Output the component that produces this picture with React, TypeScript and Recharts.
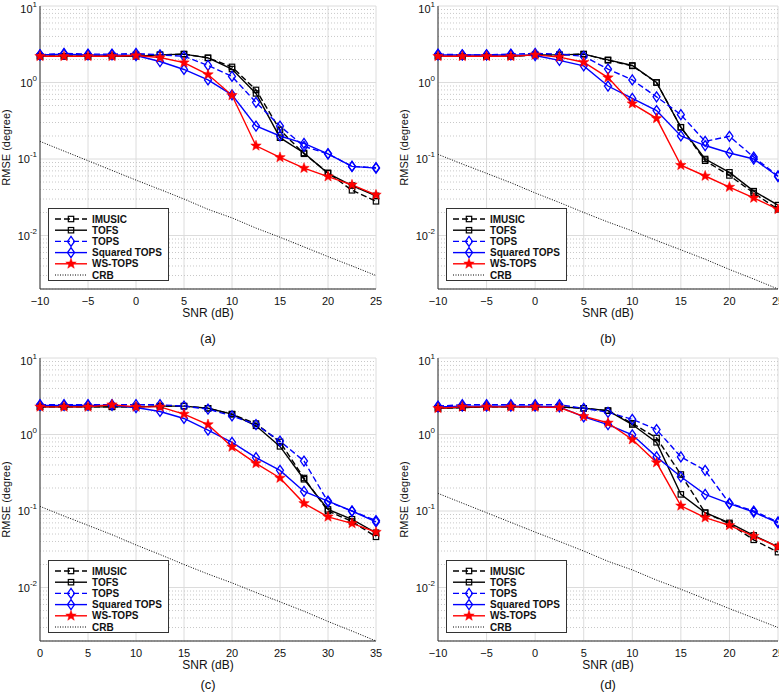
import React from "react";
import { CartesianGrid, Line, LineChart, ReferenceLine, XAxis, YAxis } from "recharts";

// SNR grids (dB)
const SNR_A = [-10, -7.5, -5, -2.5, 0, 2.5, 5, 7.5, 10, 12.5, 15, 17.5, 20, 22.5, 25];
const SNR_C = [0, 2.5, 5, 7.5, 10, 12.5, 15, 17.5, 20, 22.5, 25, 27.5, 30, 32.5, 35];
const X_TICKS_A = [-10, -5, 0, 5, 10, 15, 20, 25];
const X_TICKS_C = [0, 5, 10, 15, 20, 25, 30, 35];
const Y_TICKS = [0.01, 0.1, 1, 10];
const Y_MINOR = [
  0.002, 0.003, 0.004, 0.005, 0.006, 0.007, 0.008, 0.009,
  0.02, 0.03, 0.04, 0.05, 0.06, 0.07, 0.08, 0.09,
  0.2, 0.3, 0.4, 0.5, 0.6, 0.7, 0.8, 0.9,
  2, 3, 4, 5, 6, 7, 8, 9,
];

// (a)
const IMUSIC_A = [2.2, 2.2, 2.2, 2.25, 2.3, 2.3, 2.35, 2.1, 1.6, 0.8, 0.24, 0.117, 0.066, 0.039, 0.028];
const TOFS_A = [2.2, 2.2, 2.2, 2.2, 2.2, 2.3, 2.35, 2.1, 1.5, 0.72, 0.19, 0.12, 0.065, 0.045, 0.033];
const TOPS_A = [2.3, 2.4, 2.35, 2.35, 2.4, 2.3, 2.2, 1.67, 1.2, 0.55, 0.27, 0.146, 0.117, 0.08, 0.077];
const SQTOPS_A = [2.3, 2.35, 2.3, 2.3, 2.25, 1.88, 1.48, 1.08, 0.69, 0.27, 0.2, 0.16, 0.117, 0.08, 0.076];
const WSTOPS_A = [2.2, 2.2, 2.2, 2.2, 2.25, 2.12, 1.82, 1.27, 0.68, 0.149, 0.105, 0.076, 0.059, 0.046, 0.034];
const CRB_A = [0.17, 0.127, 0.095, 0.071, 0.053, 0.04, 0.03, 0.022, 0.017, 0.0125, 0.0095, 0.0071, 0.0053, 0.004, 0.003];

// (b)
const IMUSIC_B = [2.2, 2.2, 2.2, 2.2, 2.3, 2.3, 2.35, 1.95, 1.65, 1.0, 0.26, 0.095, 0.061, 0.036, 0.022];
const TOFS_B = [2.2, 2.2, 2.2, 2.2, 2.3, 2.3, 2.35, 1.98, 1.67, 1.0, 0.26, 0.1, 0.067, 0.038, 0.025];
const TOPS_B = [2.35, 2.3, 2.3, 2.35, 2.4, 2.35, 2.2, 1.5, 1.08, 0.65, 0.38, 0.17, 0.198, 0.106, 0.06];
const SQTOPS_B = [2.3, 2.3, 2.3, 2.3, 2.25, 1.95, 1.65, 0.9, 0.62, 0.43, 0.2, 0.15, 0.12, 0.1, 0.059];
const WSTOPS_B = [2.2, 2.2, 2.2, 2.2, 2.3, 2.15, 1.84, 1.16, 0.53, 0.34, 0.083, 0.06, 0.043, 0.031, 0.022];
const CRB_B = [0.115, 0.086, 0.065, 0.049, 0.036, 0.027, 0.02, 0.015, 0.0115, 0.0086, 0.0065, 0.0049, 0.0036, 0.0027, 0.002];

// (c)
const IMUSIC_C = [2.3, 2.3, 2.3, 2.3, 2.3, 2.35, 2.35, 2.2, 1.84, 1.39, 0.8, 0.27, 0.1, 0.073, 0.046];
const TOFS_C = [2.3, 2.3, 2.3, 2.3, 2.3, 2.35, 2.35, 2.2, 1.85, 1.3, 0.7, 0.26, 0.105, 0.078, 0.052];
const TOPS_C = [2.45, 2.45, 2.45, 2.45, 2.45, 2.45, 2.35, 2.15, 1.75, 1.35, 0.82, 0.45, 0.132, 0.1, 0.075];
const SQTOPS_C = [2.4, 2.4, 2.4, 2.4, 2.25, 2.0, 1.62, 1.14, 0.79, 0.5, 0.34, 0.18, 0.135, 0.1, 0.072];
const WSTOPS_C = [2.3, 2.3, 2.3, 2.45, 2.3, 2.3, 1.85, 1.35, 0.69, 0.42, 0.27, 0.126, 0.084, 0.069, 0.053];
const CRB_C = [0.115, 0.086, 0.065, 0.049, 0.036, 0.027, 0.02, 0.015, 0.0115, 0.0086, 0.0065, 0.0049, 0.0036, 0.0027, 0.002];

// (d)
const IMUSIC_D = [2.2, 2.25, 2.3, 2.3, 2.3, 2.3, 2.2, 2.05, 1.4, 0.9, 0.3, 0.095, 0.068, 0.042, 0.029];
const TOFS_D = [2.2, 2.25, 2.3, 2.3, 2.3, 2.3, 2.2, 2.05, 1.35, 0.79, 0.165, 0.095, 0.07, 0.048, 0.034];
const TOPS_D = [2.35, 2.45, 2.45, 2.45, 2.45, 2.45, 2.2, 1.95, 1.58, 1.16, 0.51, 0.34, 0.126, 0.1, 0.072];
const SQTOPS_D = [2.3, 2.35, 2.35, 2.35, 2.35, 2.3, 1.7, 1.35, 0.99, 0.51, 0.28, 0.165, 0.125, 0.097, 0.07];
const WSTOPS_D = [2.2, 2.3, 2.3, 2.3, 2.3, 2.25, 1.73, 1.42, 0.86, 0.43, 0.117, 0.082, 0.065, 0.047, 0.034];
const CRB_D = [0.17, 0.127, 0.095, 0.071, 0.053, 0.04, 0.03, 0.022, 0.017, 0.0125, 0.0095, 0.0071, 0.0053, 0.004, 0.003];

const FONT = "'Liberation Sans', Arial, sans-serif";
const BLUE = "#0000ff";
const RED = "#ff0000";

const Square = ({ cx, cy }: { cx: number; cy: number }) => (
  <rect x={cx - 2.7} y={cy - 2.7} width={5.4} height={5.4} fill="none" stroke="#000" strokeWidth={1.2} />
);

const Diamond = ({ cx, cy }: { cx: number; cy: number }) => (
  <path
    d={`M${cx},${cy - 5} L${cx + 3.5},${cy} L${cx},${cy + 5} L${cx - 3.5},${cy} Z`}
    fill="none"
    stroke={BLUE}
    strokeWidth={1.3}
  />
);

const Star = ({ cx, cy }: { cx: number; cy: number }) => {
  const pts: string[] = [];
  for (let i = 0; i < 10; i++) {
    const r = i % 2 === 0 ? 5.5 : 2.3;
    const a = -Math.PI / 2 + (i * Math.PI) / 5;
    pts.push(`${cx + r * Math.cos(a)},${cy + r * Math.sin(a)}`);
  }
  return <polygon points={pts.join(" ")} fill={RED} stroke={RED} strokeWidth={0.5} />;
};

const dotOf = (Shape: any) => (p: any) =>
  p.cx == null || p.cy == null ? <g key={p.key ?? p.index} /> : <Shape key={p.key ?? p.index} cx={p.cx} cy={p.cy} />;

const SERIES = [
  { key: "imusic", name: "IMUSIC", color: "#000", dash: "6 3", shape: Square },
  { key: "tofs", name: "TOFS", color: "#000", dash: undefined, shape: Square },
  { key: "tops", name: "TOPS", color: BLUE, dash: "6 3", shape: Diamond },
  { key: "sqtops", name: "Squared TOPS", color: BLUE, dash: undefined, shape: Diamond },
  { key: "wstops", name: "WS-TOPS", color: RED, dash: undefined, shape: Star },
  { key: "crb", name: "CRB", color: "#000", dash: "1 1.5", shape: null },
];

const YTick = ({ x, y, payload }: any) => {
  const exp = Math.round(Math.log10(payload.value));
  return (
    <text x={x + 5} y={y + 4} textAnchor="end" fontFamily={FONT} fontSize={11} fill="#111">
      10
      <tspan dy={-6} fontSize={8}>
        {exp}
      </tspan>
    </text>
  );
};

const Legend = ({ left, top }: { left: number; top: number }) => (
  <svg
    width={121}
    height={73}
    style={{ position: "absolute", left, top, background: "#fff", border: "1px solid #333", boxSizing: "border-box" }}
  >
    {SERIES.map((s, i) => {
      const y = 10 + i * 11.2;
      const Shape = s.shape as any;
      return (
        <g key={s.key}>
          <line
            x1={6}
            x2={38}
            y1={y}
            y2={y}
            stroke={s.color}
            strokeWidth={s.key === "crb" ? 1 : 1.4}
            strokeDasharray={s.dash}
          />
          {Shape ? <Shape cx={22} cy={y} /> : null}
          <text x={43} y={y + 3.5} fontFamily={FONT} fontSize={10} fontWeight="bold" fill="#111">
            {s.name}
          </text>
        </g>
      );
    })}
  </svg>
);

type PanelProps = {
  left: number;
  top: number;
  rightMargin: number;
  tagTop: number;
  snr: number[];
  xTicks: number[];
  series: Record<string, number[]>;
  tag: string;
};

const Panel = ({ left, top, rightMargin, tagTop, snr, xTicks, series, tag }: PanelProps) => {
  const data = snr.map((x, i) => ({
    x,
    imusic: series.imusic[i],
    tofs: series.tofs[i],
    tops: series.tops[i],
    sqtops: series.sqtops[i],
    wstops: series.wstops[i],
    crb: series.crb[i],
  }));
  const width = 390 + (14 - rightMargin);
  return (
    <div style={{ position: "absolute", left, top, width, height: 345 }}>
      <LineChart width={width} height={330} data={data} margin={{ top: 6, right: rightMargin, bottom: 11, left: 0 }}>
        <CartesianGrid stroke="#dcdcdc" strokeWidth={1} />
        {Y_MINOR.map((v) => (
          <ReferenceLine key={v} y={v} stroke="#c8c8c8" strokeDasharray="1 2" strokeWidth={1} />
        ))}
        <XAxis
          dataKey="x"
          type="number"
          domain={[xTicks[0], xTicks[xTicks.length - 1]]}
          ticks={xTicks}
          tickLine={false}
          axisLine={{ stroke: "#333" }}
          tick={{ fontFamily: FONT, fontSize: 11, fill: "#111" }}
          tickFormatter={(v) => String(v).replace("-", "\u2212")}
          height={30}
          label={{ value: "SNR (dB)", position: "insideBottom", offset: 2, style: { fontFamily: FONT, fontSize: 12, fill: "#111" } }}
        />
        <XAxis xAxisId="top" orientation="top" dataKey="x" type="number" domain={[xTicks[0], xTicks[xTicks.length - 1]]} height={0} tick={false} tickLine={false} axisLine={{ stroke: "#333" }} />
        <YAxis
          type="number"
          scale="log"
          domain={[0.002, 10]}
          allowDataOverflow
          ticks={Y_TICKS}
          tickLine={false}
          axisLine={{ stroke: "#333" }}
          tick={<YTick />}
          width={40}
          label={{ value: "RMSE (degree)", angle: -90, position: "insideLeft", offset: 6, style: { textAnchor: "middle", fontFamily: FONT, fontSize: 11, fill: "#111" } }}
        />
        <YAxis yAxisId="right" orientation="right" width={0} tick={false} tickLine={false} axisLine={{ stroke: "#333" }} />
        {SERIES.map((s) => (
          <Line
            key={s.key}
            dataKey={s.key}
            name={s.name}
            stroke={s.color}
            strokeWidth={s.key === "crb" ? 1 : 1.4}
            strokeDasharray={s.dash}
            dot={s.shape ? dotOf(s.shape) : false}
            activeDot={false}
            isAnimationActive={false}
          />
        ))}
      </LineChart>
      <Legend left={48} top={208} />
      <div
        style={{
          position: "absolute",
          left: 40,
          width: width - 40 - rightMargin,
          top: tagTop,
          lineHeight: "15px",
          textAlign: "center",
          fontFamily: FONT,
          fontSize: 13,
          color: "#111",
        }}
      >
        {tag}
      </div>
    </div>
  );
};

export default function App() {
  return (
    <div style={{ position: "absolute", left: 0, top: 0, width: 779, height: 693, background: "#fff", overflow: "hidden" }}>
      <Panel
        left={0}
        top={0}
        rightMargin={14}
        tagTop={331}
        snr={SNR_A}
        xTicks={X_TICKS_A}
        series={{ imusic: IMUSIC_A, tofs: TOFS_A, tops: TOPS_A, sqtops: SQTOPS_A, wstops: WSTOPS_A, crb: CRB_A }}
        tag="(a)"
      />
      <Panel
        left={398}
        top={0}
        rightMargin={12}
        tagTop={331}
        snr={SNR_A}
        xTicks={X_TICKS_A}
        series={{ imusic: IMUSIC_B, tofs: TOFS_B, tops: TOPS_B, sqtops: SQTOPS_B, wstops: WSTOPS_B, crb: CRB_B }}
        tag="(b)"
      />
      <Panel
        left={0}
        top={352}
        rightMargin={14}
        tagTop={325}
        snr={SNR_C}
        xTicks={X_TICKS_C}
        series={{ imusic: IMUSIC_C, tofs: TOFS_C, tops: TOPS_C, sqtops: SQTOPS_C, wstops: WSTOPS_C, crb: CRB_C }}
        tag="(c)"
      />
      <Panel
        left={398}
        top={352}
        rightMargin={12}
        tagTop={325}
        snr={SNR_A}
        xTicks={X_TICKS_A}
        series={{ imusic: IMUSIC_D, tofs: TOFS_D, tops: TOPS_D, sqtops: SQTOPS_D, wstops: WSTOPS_D, crb: CRB_D }}
        tag="(d)"
      />
    </div>
  );
}
